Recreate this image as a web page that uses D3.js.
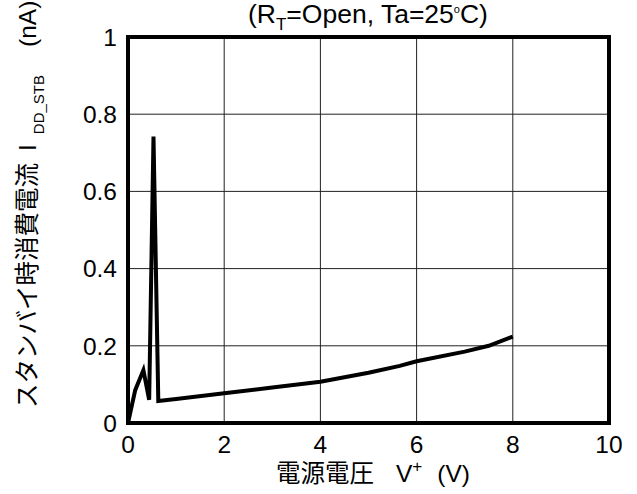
<!DOCTYPE html>
<html>
<head>
<meta charset="utf-8">
<script src="https://d3js.org/d3.v7.min.js"></script>
<style>
  body { margin: 0; background: #fff; }
  text { font-family: "Liberation Sans", Arial, "Noto Sans CJK JP", sans-serif; fill: #000; }
</style>
</head>
<body>
<svg id="chart"></svg>
<script>
// 電源電圧 (V)
const voltage = [0, 0.15, 0.32, 0.44, 0.53, 0.63, 1, 2, 3, 4, 5, 5.65, 6, 7, 7.5, 8];
// スタンバイ時消費電流 (nA)
const current = [0, 0.085, 0.137, 0.06, 0.742, 0.057, 0.062, 0.077, 0.092, 0.107, 0.13, 0.148, 0.16, 0.185, 0.2, 0.224];
const xTicks = [0, 2, 4, 6, 8, 10];
const yTicks = [0, 0.2, 0.4, 0.6, 0.8, 1];

const [width, height] = [637, 494];
const margin = { left: 128, right: 28, top: 37, bottom: 71 };
const fs = 24.5;

let svg = d3.select('#chart')
  .attr('width', width)
  .attr('height', height)

let x = d3.scaleLinear().domain([0, 10]).range([margin.left, width - margin.right])
let y = d3.scaleLinear().domain([0, 1]).range([height - margin.bottom, margin.top])

// グリッド
let grid = svg.append('g')
grid.selectAll('line.vx')
  .data(xTicks.slice(1, -1))
  .enter()
  .append('line')
  .attr('x1', d => x(d)).attr('x2', d => x(d))
  .attr('y1', y(0)).attr('y2', y(1))
  .attr('stroke', '#222').attr('stroke-width', 1)
grid.selectAll('line.hy')
  .data(yTicks.slice(1, -1))
  .enter()
  .append('line')
  .attr('y1', d => y(d)).attr('y2', d => y(d))
  .attr('x1', x(0)).attr('x2', x(10))
  .attr('stroke', '#222').attr('stroke-width', 1)

// データ線
let line = d3.line()
  .x((d, i) => x(voltage[i]))
  .y(d => y(d))
svg.append('path')
  .attr('d', line(current))
  .attr('fill', 'none')
  .attr('stroke', '#000')
  .attr('stroke-width', 4)
  .attr('stroke-linejoin', 'miter')

// 枠
svg.append('rect')
  .attr('x', x(0)).attr('y', y(1))
  .attr('width', x(10) - x(0))
  .attr('height', y(0) - y(1))
  .attr('fill', 'none')
  .attr('stroke', '#000')
  .attr('stroke-width', 4)

// 目盛ラベル
svg.append('g')
  .selectAll('text')
  .data(xTicks)
  .enter()
  .append('text')
  .attr('x', d => x(d))
  .attr('y', y(0) + 30)
  .attr('text-anchor', 'middle')
  .style('font-size', fs + 'px')
  .text(d => d)

svg.append('g')
  .selectAll('text')
  .data(yTicks)
  .enter()
  .append('text')
  .attr('x', x(0) - 11)
  .attr('y', d => y(d))
  .attr('dy', '0.36em')
  .attr('text-anchor', 'end')
  .style('font-size', fs + 'px')
  .text(d => d)

// タイトル
let title = svg.append('text')
  .attr('x', 248)
  .attr('y', 23)
  .style('font-size', '26.5px')
title.append('tspan').text('(R')
title.append('tspan').attr('dy', 7).style('font-size', '17px').text('T')
title.append('tspan').attr('dy', -7).text('=Open, Ta=25')
title.append('tspan').attr('dy', -10).style('font-size', '11px').text('o')
title.append('tspan').attr('dy', 10).text('C)')

// X軸ラベル
let xl = svg.append('text')
  .attr('x', 276)
  .attr('y', 482)
  .style('font-size', fs + 'px')
xl.append('tspan').text('電源電圧')
xl.append('tspan').attr('dx', 22).text('V')
xl.append('tspan').attr('dy', -10).style('font-size', '17px').text('+')
xl.append('tspan').attr('dy', 10).attr('dx', 15).text('(V)')

// Y軸ラベル
let yl = svg.append('text')
  .attr('transform', 'translate(36, 408) rotate(-90)')
  .style('font-size', fs + 'px')
yl.append('tspan').text('スタンバイ時消費電流')
yl.append('tspan').attr('dx', 12).text('I')
yl.append('tspan').attr('dy', 8).attr('dx', 10).style('font-size', '15px').text('DD_STB')
yl.append('tspan').attr('dy', -8).attr('dx', 28).text('(nA)')
</script>
</body>
</html>
